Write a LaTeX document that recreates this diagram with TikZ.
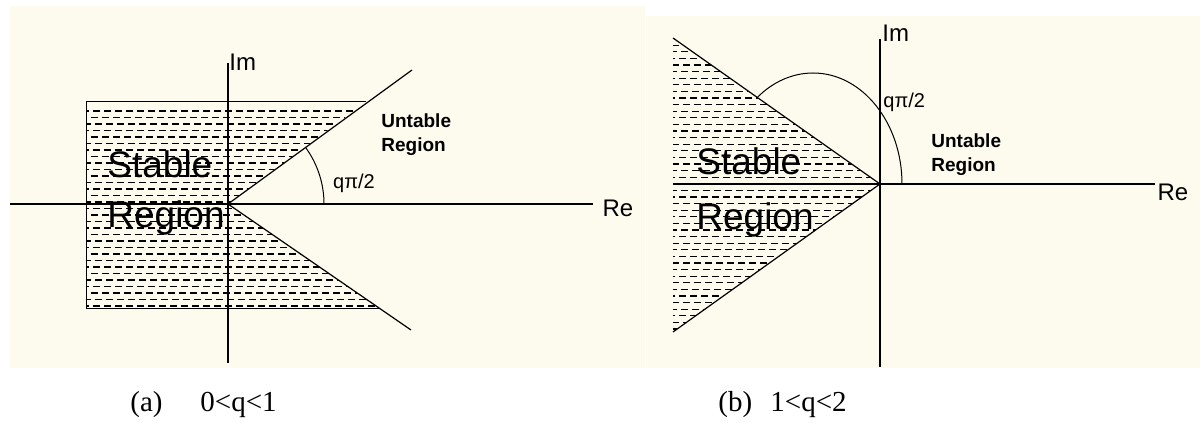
\documentclass[tikz,border=0pt]{standalone}
\usepackage{fontspec}
\setmainfont{Liberation Sans}
\newfontfamily\capserif{Liberation Serif}
\usetikzlibrary{positioning}
\definecolor{paper}{HTML}{FDFAEE}
\tikzset{
  axisline/.style={draw=black,line width=0.6pt},
  edgeline/.style={draw=black,line width=0.5pt},
  hatchrow/.style={draw=black,line width=0.65pt,dash pattern=on 3.5pt off 2pt},
  bigtxt/.style={font=\fontsize{18.5}{22}\selectfont,inner sep=0pt},
  axlbl/.style={font=\fontsize{12}{14}\selectfont,inner sep=0pt},
  anglbl/.style={font=\fontsize{10}{12}\selectfont,inner sep=0pt},
  regionlbl/.style={font=\bfseries\fontsize{9.5}{12}\selectfont,align=left,inner sep=0pt},
  captxt/.style={font=\capserif\fontsize{14.5}{17}\selectfont,inner sep=0pt,anchor=base west},
}

\begin{document}
\begin{tikzpicture}[x=0.5pt,y=0.5pt]
  \useasboundingbox (0,0) rectangle (1200,423);
  \fill[paper] (10,55) rectangle (645,417);
  \fill[paper] (646,55) rectangle (1200,407);

  % (a) 0<q<1
  \coordinate (Oa) at (228,219);
  \coordinate (tlA) at (86,321);
  \coordinate (trA) at (366,321);
  \coordinate (blA) at (86,114);
  \coordinate (brA) at (380,114);
  \coordinate (upA) at (412,353);
  \coordinate (loA) at (411,93);
  \begin{scope}
    \clip (tlA) -- (trA) -- (Oa) -- (brA) -- (blA) -- cycle;
    \foreach \y [count=\i] in {117,123.5,...,318}{
      \pgfmathsetmacro\xs{80+mod(\i,3)*2}
      \draw[hatchrow] (\xs,\y) -- (400,\y);
    }
  \end{scope}
  \draw[edgeline] (trA) -- (tlA) -- (blA) -- (brA);
  \draw[axisline] (Oa) -- (upA);
  \draw[axisline] (Oa) -- (loA);
  \coordinate (xLa) at (10,219);
  \coordinate (xRa) at (593,219);
  \coordinate (yTa) at (228,360);
  \coordinate (yBa) at (228,60);
  \draw[axisline] (xLa) -- (xRa);
  \draw[axisline] (yBa) -- (yTa);
  \coordinate (arcA) at (324,219);
  \draw[edgeline] (arcA) arc[start angle=0,end angle=36,radius=96];
  \node[axlbl,anchor=west] (imA) at (229,361) {Im};
  \node[axlbl] (reA) at (618,215) {Re};
  \node[anglbl] (angA) at (354,240) {qπ/2};
  \node[regionlbl,anchor=west] (unA) at (381,288) {Untable\\Region};
  \node[bigtxt,anchor=base west] (stA) at (107,245) {Stable};
  \node[bigtxt,anchor=base west] (rgA) at (107,195) {Region};
  \node[captxt] (capA) at (130,11) {(a)};
  \node[captxt] (qA) at (200,11) {0<q<1};

  % (b) 1<q<2
  \coordinate (Ob) at (880,239);
  \coordinate (tB) at (673,385);
  \coordinate (bB) at (673,91);
  \begin{scope}
    \clip (tB) -- (Ob) -- (bB) -- cycle;
    \foreach \y [count=\i] in {94,100.6,...,384}{
      \pgfmathsetmacro\xs{668+mod(\i,3)*2}
      \draw[hatchrow] (\xs,\y) -- (890,\y);
    }
  \end{scope}
  \draw[axisline] (tB) -- (Ob) -- (bB);
  \coordinate (xLb) at (673,239);
  \coordinate (xRb) at (1155,239);
  \coordinate (yTb) at (880,384);
  \coordinate (yBb) at (880,56);
  \draw[axisline] (xLb) -- (xRb);
  \draw[axisline] (yBb) -- (yTb);
  \coordinate (arcB) at (902,239);
  \draw[edgeline] (arcB) arc[start angle=0,end angle=129,x radius=89,y radius=111];
  \node[axlbl,anchor=west] (imB) at (882,390) {Im};
  \node[axlbl] (reB) at (1173,231) {Re};
  \node[anglbl,anchor=west] (angB) at (883,321) {qπ/2};
  \node[regionlbl,anchor=west] (unB) at (931,268) {Untable\\Region};
  \node[bigtxt,anchor=base west] (stB) at (696,248) {Stable};
  \node[bigtxt,anchor=base west] (rgB) at (696,193) {Region};
  \node[captxt] (capB) at (718,11) {(b)};
  \node[captxt] (qB) at (770,11) {1<q<2};
\end{tikzpicture}
\end{document}
